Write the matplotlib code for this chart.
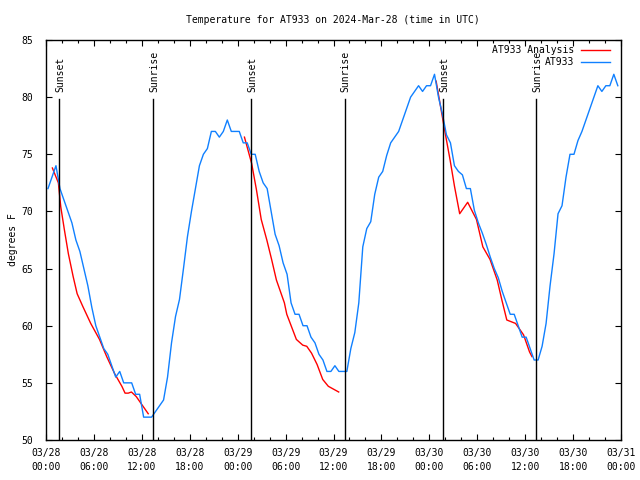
import numpy as np
import matplotlib
matplotlib.use('Agg')
import matplotlib.pyplot as plt

plt.rcParams['font.family'] = 'DejaVu Sans Mono'
plt.rcParams['font.size'] = 7

TITLE = 'Temperature for AT933 on 2024-Mar-28 (time in UTC)'

# hours since 03/28 00:00 UTC
tick_hours = [0, 6, 12, 18, 24, 30, 36, 42, 48, 54, 60, 66, 72]
tick_labels = ['03/28\n00:00', '03/28\n06:00', '03/28\n12:00', '03/28\n18:00',
               '03/29\n00:00', '03/29\n06:00', '03/29\n12:00', '03/29\n18:00',
               '03/30\n00:00', '03/30\n06:00', '03/30\n12:00', '03/30\n18:00',
               '03/31\n00:00']

sunset_hours = [1.65, 25.68, 49.72]
sunrise_hours = [13.42, 37.38, 61.35]

# observed temperature, read every half hour
obs_temps = [
    72, 73, 74, 72, 71, 70, 69, 67.5, 66.5, 65, 63.5, 61.6,
    60, 59, 58, 57.5, 56.5, 55.5, 56, 55, 55, 55, 54, 54,
    52, 52, 52, 52.5, 53, 53.5, 55.5, 58.5, 60.8, 62.3, 65, 67.8,
    70, 72, 74, 75, 75.5, 77, 77, 76.5, 77, 78, 77, 77,
    77, 76, 76, 75, 75, 73.5, 72.5, 72, 70, 68, 67, 65.5,
    64.5, 62, 61, 61, 60, 60, 59, 58.5, 57.5, 57, 56, 56,
    56.5, 56, 56, 56, 58, 59.4, 62, 66.9, 68.5, 69.1, 71.5, 73,
    73.5, 74.9, 76, 76.5, 77, 78, 79, 80, 80.5, 81, 80.5, 81,
    81, 82, 80, 78.5, 76.7, 76, 74, 73.5, 73.2, 72, 72, 70.1,
    69, 68.1, 67.1, 66, 65, 64.2, 63, 62, 61, 61, 60, 59,
    59, 58, 57, 57, 58.2, 60.2, 63.5, 66.3, 69.8, 70.5, 73, 75,
    75, 76.2, 77, 78, 79, 80, 81, 80.5, 81, 81, 82, 81,
]
obs_hours = np.linspace(0.25, 71.6, len(obs_temps))

# analysis (one segment per night, NaN splits them)
ana_hours = [0.8, 1.55, 1.85, 2.3, 2.8, 3.4, 3.9, 4.6, 5.6, 6.7, 7.6, 8.6, 9.5,
             9.9, 10.3, 10.7, 11.3, 12.2, 12.8, np.nan,
             24.85, 25.75, 26.35, 26.95, 27.65, 28.25, 28.85, 29.85, 30.15,
             31.35, 32.15, 32.65, 33.25, 33.95, 34.65, 35.35, 36.65, np.nan,
             48.85, 49.4, 50.0, 50.6, 51.15, 51.8, 52.8, 53.9, 54.7, 55.6,
             56.5, 57.1, 57.7, 58.8, 59.8, 60.55, 60.85]
ana_temps = [73.8, 72.5, 70.4, 68.4, 66.3, 64.3, 62.8, 61.7, 60.2, 58.8, 57.3,
             55.8, 54.7, 54.1, 54.1, 54.2, 53.8, 52.9, 52.3, np.nan,
             76.5, 74.2, 71.9, 69.3, 67.5, 65.8, 64.0, 62.0, 61.0,
             58.8, 58.3, 58.2, 57.6, 56.6, 55.3, 54.7, 54.2, np.nan,
             81.4, 79.2, 76.8, 74.5, 72.2, 69.8, 70.8, 69.3, 66.9, 65.8,
             64.0, 62.2, 60.5, 60.2, 59.2, 57.7, 57.3]

RED = '#ff0000'
BLUE = '#1080ff'


def graph():
    fig = plt.figure(figsize=(6.4, 4.8), dpi=100)
    ax = fig.add_axes([46 / 640, 40 / 480, 575 / 640, 400 / 480])

    ax.plot(ana_hours, ana_temps, color=RED, lw=1.0)
    ax.plot(obs_hours, obs_temps, color=BLUE, lw=1.0)

    for h in sunset_hours:
        ax.plot([h, h], [50, 79.85], color='black', lw=1.0)
        ax.text(h + 0.15, 80.45, 'Sunset', rotation=90, ha='center', va='bottom')
    for h in sunrise_hours:
        ax.plot([h, h], [50, 79.85], color='black', lw=1.0)
        ax.text(h + 0.15, 80.45, 'Sunrise', rotation=90, ha='center', va='bottom')

    # gnuplot style key
    ax.text(0.918, 0.975, 'AT933 Analysis', transform=ax.transAxes, ha='right', va='center')
    ax.plot([0.930, 0.981], [0.975, 0.975], transform=ax.transAxes, color=RED, lw=1.0)
    ax.text(0.918, 0.944, 'AT933', transform=ax.transAxes, ha='right', va='center')
    ax.plot([0.930, 0.981], [0.944, 0.944], transform=ax.transAxes, color=BLUE, lw=1.0)

    ax.set_xlim(0, 72)
    ax.set_ylim(50, 85)
    ax.set_xticks(tick_hours)
    ax.set_xticklabels(tick_labels, linespacing=1.5)
    ax.set_xticks(np.arange(0, 73, 2), minor=True)
    ax.set_yticks([50, 55, 60, 65, 70, 75, 80, 85])
    ax.tick_params(which='both', direction='in', top=True, right=True, width=0.8)
    ax.tick_params(which='major', length=4.5, pad=6)
    ax.tick_params(which='minor', length=2.5)
    ax.tick_params(axis='y', pad=9)
    for s in ax.spines.values():
        s.set_linewidth(1.0)

    ax.set_ylabel('degrees F', labelpad=3)
    fig.text(333 / 640, 1 - 20 / 480, TITLE, ha='center', va='center')
    fig.savefig('out.png', dpi=100)


if __name__ == '__main__':
    graph()
